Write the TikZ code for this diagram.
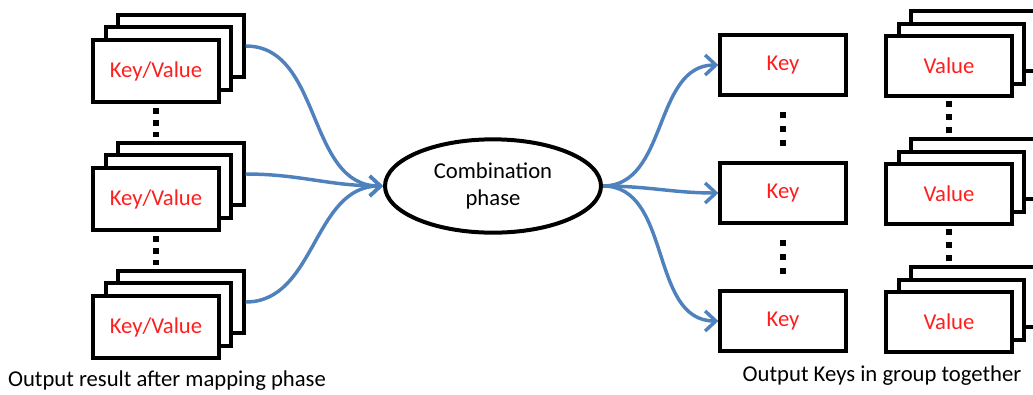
\documentclass[tikz,border=0pt]{standalone}
\usepackage{fontspec}
\setmainfont{Carlito}
\usetikzlibrary{shapes.geometric,arrows.meta}

\definecolor{flowblue}{RGB}{79,129,189}
\definecolor{kvred}{RGB}{255,30,30}

\tikzset{every picture/.style={line width=0.75pt}}
\tikzset{
  kvbox/.style={draw,line width=3pt,fill=white,minimum width=94pt,minimum height=47pt,inner sep=0pt,
    font=\fontsize{17}{20}\selectfont,text=kvred},
  outbox/.style={kvbox,minimum height=45pt},
  phase/.style={draw,ellipse,line width=3pt,fill=white,minimum width=162pt,minimum height=70pt,
    inner sep=0pt,align=center,font=\fontsize{17}{20}\selectfont},
  flow/.style={draw=flowblue,line width=2.6pt,-{Straight Barb[length=8pt,width=15pt]}},
  dotline/.style={line width=4.2pt,dash pattern=on 4.5pt off #1},
  caption/.style={inner sep=0pt,font=\fontsize{17}{20}\selectfont}
}

\begin{document}
\begin{tikzpicture}[x=0.75pt,y=0.75pt,yscale=-1,xscale=1]
\useasboundingbox (0,0) rectangle (1033,394);

%Shape: Stack (mapping output 1)
\node [kvbox] (kv1c) at (181,46) {};
\node [kvbox] (kv1b) at (168.5,58.5) {};
\node [kvbox] (kv1) at (156,71) {Key/Value};
%Shape: Stack (mapping output 2)
\node [kvbox] (kv2c) at (181,174) {};
\node [kvbox] (kv2b) at (168.5,186.5) {};
\node [kvbox] (kv2) at (156,199) {Key/Value};
%Shape: Stack (mapping output 3)
\node [kvbox] (kv3c) at (181,302) {};
\node [kvbox] (kv3b) at (168.5,314.5) {};
\node [kvbox] (kv3) at (156,327) {Key/Value};

%Shape: Ellipse
\node [phase] (comb) at (493,186) {Combination\\phase};

%Shape: Key boxes
\node [outbox] (key1) at (783,65) {Key};
\node [outbox] (key2) at (783,193) {Key};
\node [outbox] (key3) at (783,321) {Key};

%Shape: Stack (values 1)
\node [outbox] (val1c) at (974,41) {};
\node [outbox] (val1b) at (961.5,53.5) {};
\node [outbox] (val1) at (949,66) {Value};
%Shape: Stack (values 2)
\node [outbox] (val2c) at (974,169) {};
\node [outbox] (val2b) at (961.5,181.5) {};
\node [outbox] (val2) at (949,194) {Value};
%Shape: Stack (values 3)
\node [outbox] (val3c) at (974,297) {};
\node [outbox] (val3b) at (961.5,309.5) {};
\node [outbox] (val3) at (949,322) {Value};

% Dots
\draw [dotline=4.5pt,shorten <=2.5pt,shorten >=2.5pt] (kv1.south) -- (kv1.south |- kv2c.north);
\draw [dotline=4.5pt,shorten <=2.5pt,shorten >=2.5pt] (kv2.south) -- (kv2.south |- kv3c.north);
\draw [dotline=6pt,shorten <=11.25pt,shorten >=11.25pt] (key1.south) -- (key2.north);
\draw [dotline=6pt,shorten <=11.25pt,shorten >=11.25pt] (key2.south) -- (key3.north);
\draw [dotline=5.25pt,shorten <=2.6pt,shorten >=2.6pt] (val1.south) -- (val1.south |- val2c.north);
\draw [dotline=5.25pt,shorten <=2.6pt,shorten >=2.6pt] (val2.south) -- (val2.south |- val3c.north);

% Curves into the ellipse
\draw [flow] (kv1c.east) to [out=0,in=180] (comb.west);
\draw [flow] (kv2c.east) to [out=0,in=180] (comb.west);
\draw [flow] (kv3c.east) to [out=0,in=180] (comb.west);
% Curves out of the ellipse
\draw [flow] (comb.east) to [out=0,in=180] (key1.west);
\draw [flow] (comb.east) to [out=0,in=180] (key2.west);
\draw [flow] (comb.east) to [out=0,in=180] (key3.west);

% Text Node
\node [caption] (capl) at (167,381) {Output result after mapping phase};
% Text Node
\node [caption] (capr) at (882,376) {Output Keys in group together};

\end{tikzpicture}
\end{document}
